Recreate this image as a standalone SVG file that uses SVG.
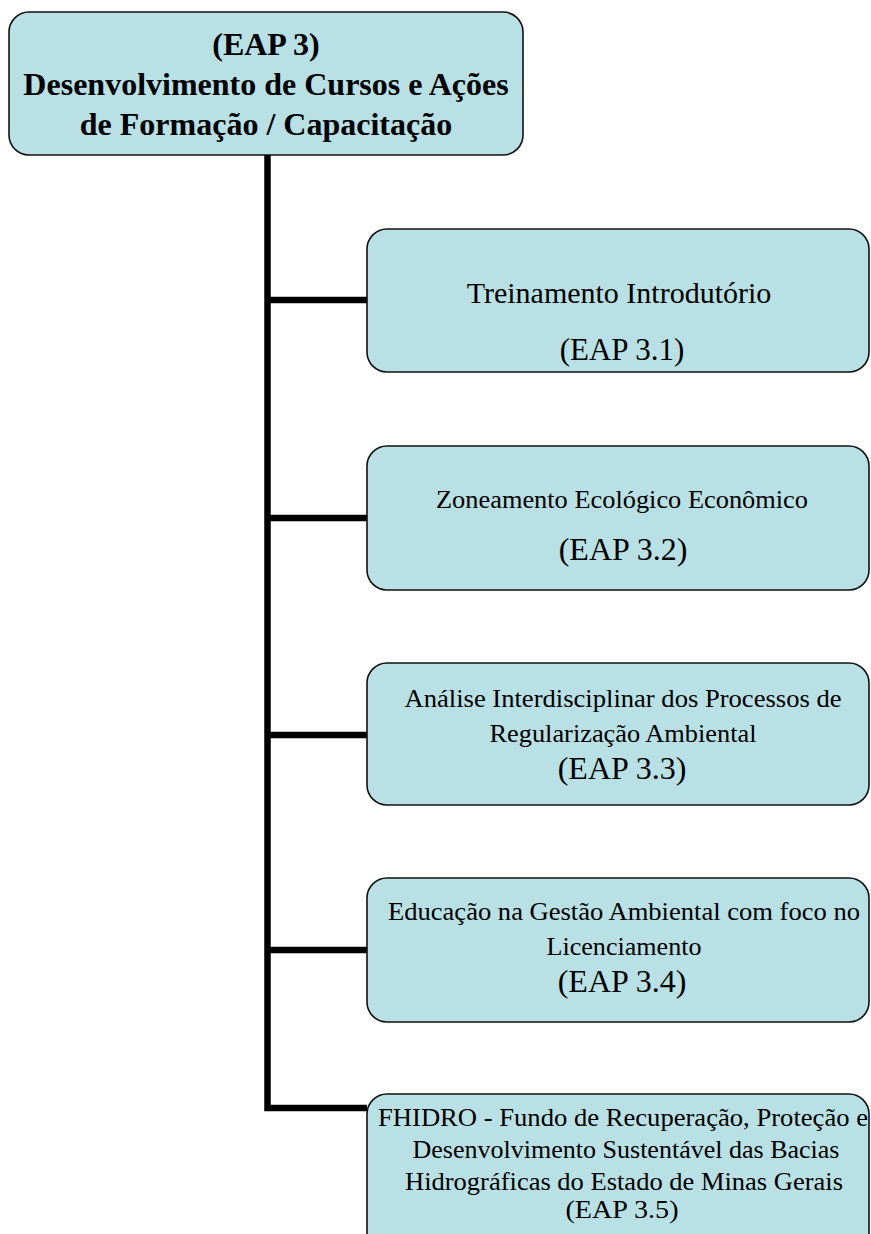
<svg xmlns="http://www.w3.org/2000/svg" width="871" height="1234" viewBox="0 0 871 1234">
  <style>
    .box { fill: #b9e0e4; stroke: #111; stroke-width: 1.6; }
    .wire { fill: none; stroke: #000; stroke-width: 6.5; stroke-linecap: butt; stroke-linejoin: miter; }
    text { font-family: "Liberation Serif", "Times New Roman", serif; fill: #000; text-anchor: middle; }
    .title { font-weight: bold; font-size: 32px; }
    .big { font-size: 30px; }
    .code { font-size: 32px; }
    .small { font-size: 25px; }
  </style>

  <!-- tree connectors -->
  <g id="connectors">
    <path class="wire" d="M267.5,155 V1108 H367"/>
    <path class="wire" d="M267.5,300 H367"/>
    <path class="wire" d="M267.5,518 H367"/>
    <path class="wire" d="M267.5,735 H367"/>
    <path class="wire" d="M267.5,950 H367"/>
  </g>

  <g id="eap3">
    <rect class="box" x="9" y="12" width="514" height="143" rx="20"/>
    <text class="title" x="266" y="55">(EAP 3)</text>
    <text class="title" x="266" y="95">Desenvolvimento de Cursos e Ações</text>
    <text class="title" x="266" y="135">de Formação / Capacitação</text>
  </g>

  <g id="eap3-1">
    <rect class="box" x="367" y="229" width="502" height="143" rx="20"/>
    <text class="big" x="619" y="303">Treinamento Introdutório</text>
    <text class="big" x="622" y="360" style="font-size:31px">(EAP 3.1)</text>
  </g>

  <g id="eap3-2">
    <rect class="box" x="367" y="446" width="502" height="144" rx="20"/>
    <text class="small" x="622" y="508" textLength="372" lengthAdjust="spacingAndGlyphs">Zoneamento Ecológico Econômico</text>
    <text class="code" x="623" y="560">(EAP 3.2)</text>
  </g>

  <g id="eap3-3">
    <rect class="box" x="367" y="663" width="502" height="142" rx="20"/>
    <text class="small" x="623" y="707" textLength="437" lengthAdjust="spacingAndGlyphs">Análise Interdisciplinar dos Processos de</text>
    <text class="small" x="623" y="742" textLength="267" lengthAdjust="spacingAndGlyphs">Regularização Ambiental</text>
    <text class="code" x="622" y="779">(EAP 3.3)</text>
  </g>

  <g id="eap3-4">
    <rect class="box" x="367" y="878" width="502" height="144" rx="20"/>
    <text class="small" x="624" y="920" textLength="472" lengthAdjust="spacingAndGlyphs">Educação na Gestão Ambiental com foco no</text>
    <text class="small" x="624" y="955" textLength="155" lengthAdjust="spacingAndGlyphs">Licenciamento</text>
    <text class="code" x="622" y="992">(EAP 3.4)</text>
  </g>

  <g id="eap3-5">
    <rect class="box" x="367" y="1094" width="502" height="160" rx="20"/>
    <text class="small" x="623" y="1126" textLength="490" lengthAdjust="spacingAndGlyphs">FHIDRO - Fundo de Recuperação, Proteção e</text>
    <text class="small" x="626" y="1158" textLength="427" lengthAdjust="spacingAndGlyphs">Desenvolvimento Sustentável das Bacias</text>
    <text class="small" x="624" y="1190" textLength="438" lengthAdjust="spacingAndGlyphs">Hidrográficas do Estado de Minas Gerais</text>
    <text class="small" x="622" y="1218" textLength="113" lengthAdjust="spacingAndGlyphs">(EAP 3.5)</text>
  </g>
</svg>
